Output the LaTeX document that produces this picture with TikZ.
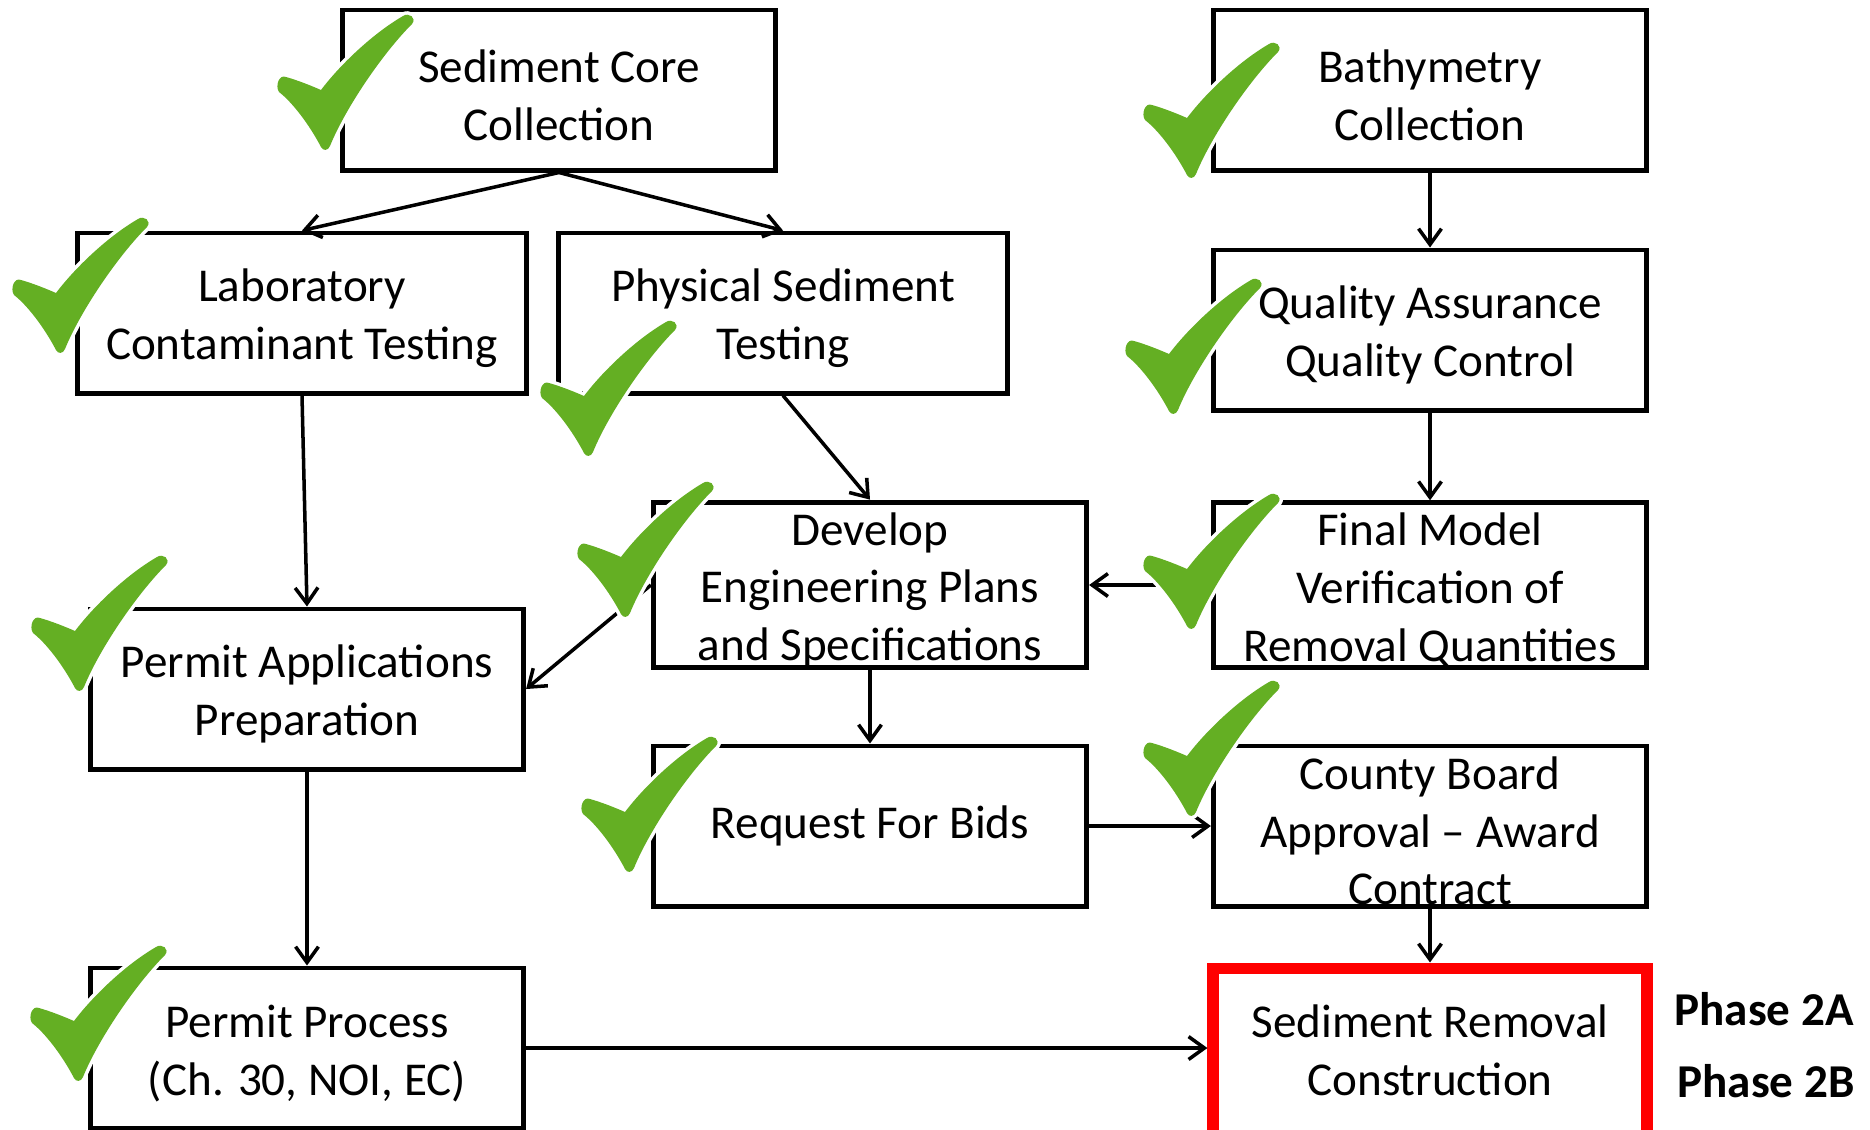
\documentclass[tikz,border=0pt]{standalone}
\usepackage{fontspec}
\setmainfont{Carlito}
\usetikzlibrary{arrows.meta}
\definecolor{tickgreen}{RGB}{100,175,35}
\newcommand{\tstrut}{\rule{0pt}{12.2pt}}
\tikzstyle{cbox}=[rectangle, draw, line width=1.4pt, minimum width=4.33cm, minimum height=1.6cm, inner sep=0pt, align=center, font=\fontsize{13.4}{16.4}\selectfont]
\tikzstyle{cwide}=[cbox, minimum width=4.49cm]
\tikzstyle{cred}=[cbox, draw=red, line width=3.4pt, minimum height=1.75cm, execute at end node={\rule[-3.4pt]{0pt}{0pt}}]
\tikzstyle{cphase}=[inner sep=0pt, anchor=base, font=\fontsize{13.4}{16.4}\selectfont\bfseries]
\tikzstyle{arr}=[-{Straight Barb[length=4.5pt,width=6.5pt]}, line width=1pt]
\tikzset{tick/.pic={
  \path[preaction={draw=white, line width=2pt, line join=round}, fill=tickgreen]
    (44,76) .. controls (62,52) and (95,20) .. (126,2)
    .. controls (132,-2) and (140,4) .. (135,10)
    .. controls (105,40) and (68,95) .. (53,132)
    .. controls (51,137) and (46,137) .. (44,133)
    .. controls (32,110) and (15,88) .. (2,78)
    .. controls (-2,72) and (2,60) .. (9,63)
    .. controls (20,66) and (35,72) .. (44,76) -- cycle;
}}

\begin{document}
\begin{tikzpicture}[x=0.01cm, y=-0.01cm]
\useasboundingbox (0,0) rectangle (1870,1129);

\node[cbox] (n1) at (559,90) {\tstrut Sediment Core\\Collection};
\node[cbox] (n2) at (1430,90) {\tstrut Bathymetry\\Collection};
\node[cwide] (n3) at (302,313) {\tstrut Laboratory\\Contaminant Testing};
\node[cwide] (n4) at (783,313) {\tstrut Physical Sediment\\Testing};
\node[cbox] (n5) at (1430,330) {\tstrut Quality Assurance\\Quality Control};
\node[cbox] (n6) at (870,585) {\tstrut Develop\\Engineering Plans\\and Specifications};
\node[cbox] (n7) at (1430,585) {\tstrut Final Model\\Verification of\\Removal Quantities};
\node[cbox] (n8) at (307,689) {\tstrut Permit Applications\\Preparation};
\node[cbox] (n9) at (870,826) {Request For Bids};
\node[cbox] (n10) at (1430,826) {\tstrut County Board\\Approval -- Award\\Contract};
\node[cbox] (n11) at (307,1048) {\tstrut Permit Process\\(Ch. 30, NOI, EC)};
\node[cred] (n12) at (1430,1056) {Sediment Removal\\Construction};
\node[cphase] (p1) at (1764,1025) {Phase 2A};
\node[cphase] (p2) at (1766,1097) {Phase 2B};

\draw[arr] (n1.south) -- (n3.north);
\draw[arr] (n1.south) -- (n4.north);
\draw[arr] (n2) -- (n5);
\draw[arr] (n3.south) -- (n8.north);
\draw[arr] (n4.south) -- (n6.north);
\draw[arr] (n5) -- (n7);
\draw[arr] (n7) -- (n6);
\draw[arr] (n6.west) -- (n8.east);
\draw[arr] (n6) -- (n9);
\draw[arr] (n9) -- (n10);
\draw[arr] (n10) -- (n12);
\draw[arr] (n8) -- (n11);
\draw[arr] (n11.east) -- (n11.east -| n12.west);

% check marks
\pic at (277,14) {tick};
\pic at (1143,42) {tick};
\pic at (12,217) {tick};
\pic at (540,320) {tick};
\pic at (1125,278) {tick};
\pic at (577,481) {tick};
\pic at (1143,493) {tick};
\pic at (31,555) {tick};
\pic at (581,736) {tick};
\pic at (1143,680) {tick};
\pic at (30,945) {tick};

\end{tikzpicture}
\end{document}
